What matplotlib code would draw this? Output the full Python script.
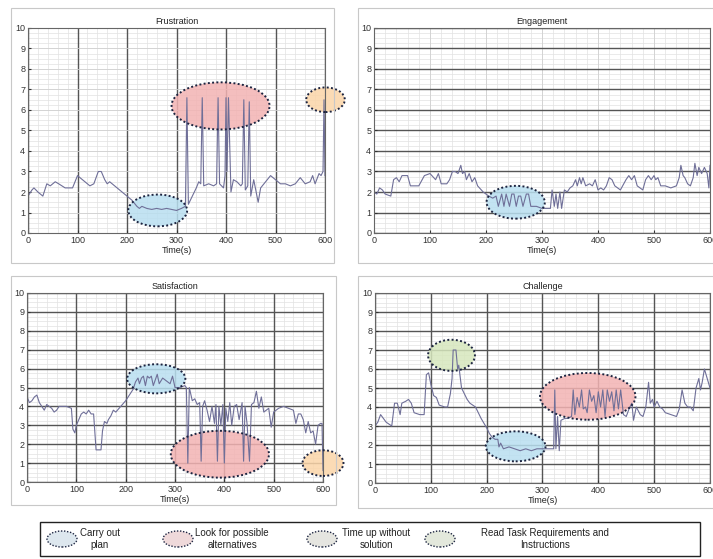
import numpy as np
import matplotlib
matplotlib.use("Agg")
import matplotlib.pyplot as plt
from matplotlib.patches import Ellipse, Rectangle
from matplotlib.ticker import MultipleLocator, NullLocator

plt.rcParams["font.family"] = ["Liberation Sans", "DejaVu Sans"]

W, H = 713, 559

# ---- data ----
frus_t = [0, 8, 12, 20, 30, 38, 45, 55, 62, 75, 90, 100, 105, 115, 125, 133, 142, 148, 155, 160,
          165, 175, 185, 195, 210, 220, 225, 230, 240, 250, 260, 270, 280, 290, 300, 310, 318,
          321, 324, 332, 340, 345, 349, 352, 355, 365, 375, 381, 384, 387, 395, 398, 400, 402,
          405, 410, 415, 422, 430, 433, 436, 439, 444, 447, 450, 456, 465, 470, 480, 490, 500,
          510, 520, 530, 540, 550, 560, 570, 575, 580, 588, 592, 596, 598, 600]
frus_v = [1.8, 2.1, 2.2, 2.0, 1.8, 2.4, 2.3, 2.5, 2.4, 2.2, 2.2, 2.8, 2.7, 2.5, 2.3, 2.4, 3.0, 3.0,
          2.6, 2.4, 2.5, 2.3, 2.1, 1.9, 1.6, 1.3, 1.2, 1.3, 1.2, 1.15, 1.2, 1.15, 1.2, 1.15, 1.1,
          1.2, 1.3, 6.6, 1.4, 1.8, 2.2, 2.5, 2.4, 6.6, 2.3, 2.4, 2.3, 2.4, 6.6, 2.4, 2.2, 2.8, 6.6,
          3.0, 6.6, 2.0, 2.6, 2.5, 2.3, 2.4, 6.5, 2.1, 2.3, 6.4, 1.8, 2.6, 1.5, 2.2, 2.5, 2.8,
          2.6, 2.4, 2.4, 2.3, 2.4, 2.7, 2.4, 2.5, 2.8, 2.4, 2.9, 2.8, 3.0, 6.5, 2.8]

eng_t = [0, 5, 10, 15, 20, 30, 35, 40, 45, 50, 60, 65, 80, 90, 100, 110, 115, 120, 130, 135, 140,
         145, 150, 155, 158, 162, 165, 170, 175, 180, 185, 195, 205, 212, 218, 222, 228, 232, 236,
         242, 246, 250, 254, 258, 262, 266, 272, 276, 280, 290, 300, 310, 315, 318, 322, 325, 328,
         332, 335, 340, 345, 350, 355, 360, 363, 367, 370, 373, 378, 385, 390, 395, 400, 405, 410,
         415, 420, 425, 430, 440, 450, 455, 460, 465, 470, 480, 485, 490, 495, 500, 503, 507, 512,
         520, 530, 540, 545, 548, 552, 555, 560, 565, 570, 573, 577, 580, 585, 590, 595, 598, 600]
eng_v = [2.0, 1.9, 2.2, 2.1, 1.9, 1.8, 2.6, 2.7, 2.5, 2.8, 2.8, 2.3, 2.3, 2.8, 2.9, 2.6, 2.9, 2.4,
         2.4, 2.6, 3.0, 3.0, 2.9, 3.3, 2.9, 3.0, 2.6, 2.9, 2.5, 2.7, 2.3, 2.0, 1.8, 1.7, 1.8, 1.3,
         1.9, 1.3, 1.9, 1.3, 1.9, 1.9, 1.3, 1.8, 1.8, 1.3, 1.9, 1.9, 1.3, 1.3, 1.2, 1.2, 1.2, 2.1,
         1.3, 1.9, 1.2, 2.0, 1.2, 2.1, 2.0, 2.2, 2.3, 2.6, 2.3, 2.7, 2.4, 2.7, 2.3, 2.4, 2.3, 2.6,
         2.1, 2.2, 2.1, 2.3, 2.7, 2.6, 2.3, 2.1, 2.6, 2.8, 2.6, 2.8, 2.3, 2.1, 2.6, 2.8, 2.6, 2.8,
         2.6, 2.7, 2.3, 2.3, 2.2, 2.3, 2.7, 3.3, 2.8, 2.7, 2.4, 2.3, 2.7, 3.4, 2.8, 3.2, 2.9, 3.2,
         2.9, 2.2, 3.3]

sat_t = [0, 5, 10, 15, 20, 25, 30, 35, 40, 45, 50, 55, 60, 65, 70, 80, 90, 93, 97, 100, 105, 110,
         115, 120, 125, 130, 135, 140, 150, 153, 157, 162, 165, 170, 175, 180, 190, 200, 210, 215,
         220, 225, 228, 232, 236, 240, 244, 248, 252, 256, 260, 264, 268, 275, 280, 290, 295, 300,
         310, 320, 323, 326, 329, 335, 340, 345, 350, 353, 356, 360, 365, 370, 375, 380, 383, 386,
         389, 393, 397, 400, 403, 407, 411, 415, 420, 425, 430, 436, 439, 442, 446, 451, 455, 460,
         465, 470, 475, 480, 490, 495, 500, 505, 510, 520, 530, 540, 545, 550, 555, 560, 565, 570,
         575, 580, 585, 590, 595, 598, 600, 600.5]
sat_v = [4.5, 4.2, 4.3, 4.5, 4.6, 4.2, 4.0, 3.8, 4.1, 4.0, 3.9, 3.7, 3.8, 4.0, 4.0, 4.0, 3.9, 2.8,
         2.6, 3.0, 3.3, 3.6, 3.7, 3.6, 3.8, 3.6, 3.6, 1.7, 1.7, 2.7, 3.2, 3.1, 3.3, 3.5, 3.8, 3.7,
         4.0, 4.3, 4.7, 4.9, 5.3, 5.5, 5.2, 5.5, 5.6, 5.1, 5.6, 5.5, 5.6, 5.1, 5.4, 5.7, 5.2, 5.5,
         5.4, 5.2, 5.6, 5.0, 5.0, 5.1, 5.0, 1.0, 5.0, 4.3, 4.4, 4.1, 4.2, 1.1, 4.0, 4.3, 3.8, 3.2,
         4.0, 3.1, 4.1, 1.1, 4.0, 3.0, 4.1, 1.0, 3.9, 3.2, 4.2, 3.0, 4.0, 4.1, 3.3, 4.2, 1.1, 4.0,
         3.1, 1.1, 4.1, 4.2, 4.8, 3.9, 4.5, 3.7, 3.9, 2.9, 3.7, 3.8, 3.9, 4.0, 3.9, 3.8, 3.1, 3.6,
         3.6, 3.3, 2.6, 3.2, 2.6, 2.7, 2.0, 3.0, 3.1, 3.1, 0.6, 0.6]

chal_t = [0, 5, 10, 15, 20, 25, 30, 35, 40, 45, 48, 55, 60, 65, 70, 80, 88, 92, 96, 100, 105, 110,
          115, 125, 130, 135, 138, 140, 145, 148, 150, 155, 160, 165, 170, 175, 180, 185, 190, 200,
          205, 210, 215, 220, 222, 225, 230, 240, 250, 260, 270, 280, 290, 300, 310, 320, 322, 324,
          327, 330, 333, 340, 345, 352, 355, 358, 362, 366, 370, 373, 377, 380, 384, 388, 392, 396,
          400, 404, 408, 412, 416, 420, 424, 428, 432, 436, 440, 445, 450, 455, 460, 463, 468, 475,
          480, 485, 490, 493, 497, 500, 505, 510, 515, 520, 530, 540, 545, 550, 555, 560, 565, 570,
          575, 580, 583, 586, 590, 595, 600]
chal_v = [3.0, 3.2, 3.6, 3.4, 3.2, 3.1, 3.0, 4.2, 4.2, 3.6, 4.2, 4.3, 4.4, 4.2, 3.7, 3.6, 3.6, 5.7,
          5.8, 5.2, 4.6, 4.5, 4.1, 4.0, 4.0, 4.7, 5.5, 7.0, 7.0, 6.0, 6.2, 5.0, 4.7, 4.4, 4.2, 4.1,
          4.0, 3.7, 3.4, 2.9, 2.6, 2.4, 2.3, 2.3, 1.9, 2.1, 1.8, 1.9, 1.8, 1.7, 1.8, 1.7, 1.8, 1.8,
          1.8, 1.8, 4.9, 1.8, 3.5, 1.7, 3.3, 3.4, 3.4, 3.5, 4.9, 3.6, 4.5, 4.0, 4.9, 3.9, 4.0, 3.7,
          4.9, 4.3, 4.6, 3.7, 4.8, 4.0, 4.9, 3.5, 4.9, 4.3, 4.8, 3.8, 4.9, 3.9, 4.9, 3.6, 3.5, 3.9,
          4.2, 3.3, 4.0, 3.6, 3.5, 4.0, 5.3, 4.2, 4.4, 4.0, 4.3, 4.0, 3.9, 3.7, 3.6, 3.5, 3.9, 4.9,
          4.2, 4.0, 4.0, 3.8, 5.0, 5.5, 4.9, 5.3, 6.0, 5.5, 5.0]

# ellipse annotations: (center t, center value, width s, height units, kind)
frus_marks = [(262, 1.1, 119, 1.55, "plan"), (389, 6.2, 198, 2.3, "alt"), (601, 6.5, 78, 1.2, "time")]
eng_marks = [(253, 1.5, 104, 1.6, "plan")]
sat_marks = [(262, 5.46, 118, 1.54, "plan"), (391, 1.47, 199, 2.48, "alt"), (600, 1.0, 83, 1.36, "time")]
chal_marks = [(137, 6.72, 84, 1.64, "read"), (252, 1.93, 107, 1.58, "plan"), (381, 4.56, 171, 2.46, "alt")]

mark_colors = {"plan": "#b9dff0", "alt": "#f3b3b3", "time": "#fbd5a8", "read": "#d6e7bd"}
legend_colors = {"plan": "#dde7ee", "alt": "#efd9da", "time": "#e5e5e0", "read": "#e3e8dc"}
legend_labels = [("plan", "Carry out\nplan"), ("alt", "Look for possible\nalternatives"),
                 ("time", "Time up without\nsolution"), ("read", "Read Task Requirements and\nInstructions")]

LINE = "#6f6f98"
EDGE = "#1c2440"


def fig_rect(left, top, right, bottom):
    return [left / W, 1 - bottom / H, (right - left) / W, (bottom - top) / H]


def panel(fig, box, frame, title, t, v, marks, dark_x, dark_y):
    fig.add_artist(Rectangle((frame[0] / W, 1 - frame[3] / H), (frame[2] - frame[0]) / W,
                             (frame[3] - frame[1]) / H, transform=fig.transFigure,
                             fill=False, edgecolor="#c8c8c8", linewidth=0.8))
    # background axes: minor grid only
    bg = fig.add_axes(fig_rect(*box))
    bg.set_xlim(0, 600)
    bg.set_ylim(0, 10)
    bg.xaxis.set_major_locator(MultipleLocator(20))
    bg.yaxis.set_major_locator(MultipleLocator(0.25))
    bg.grid(color="#e2e2e2", linewidth=0.5)
    bg.tick_params(length=0, labelleft=False, labelbottom=False)
    for s in bg.spines.values():
        s.set_visible(False)

    ax = fig.add_axes(fig_rect(*box))
    ax.patch.set_alpha(0)
    ax.set_xlim(0, 600)
    ax.set_ylim(0, 10)
    ax.xaxis.set_major_locator(MultipleLocator(100))
    ax.yaxis.set_major_locator(MultipleLocator(1))
    ax.grid(axis="x", color="#555555" if dark_x else "#d0d0d0", linewidth=1.0 if dark_x else 0.6)
    ax.grid(axis="y", color="#555555" if dark_y else "#d0d0d0", linewidth=1.0 if dark_y else 0.6)
    ax.set_axisbelow(True)
    ax.tick_params(direction="in", labelsize=6.5, length=2, pad=2, colors="#333333")
    for s in ax.spines.values():
        s.set_color("#666666")
        s.set_linewidth(0.8)
    for cx, cy, w, h, kind in marks:
        ax.add_patch(Ellipse((cx, cy), w, h, facecolor=mark_colors[kind], edgecolor="none",
                             alpha=0.85, zorder=1.5, clip_on=False))
    ax.plot(t, v, color=LINE, linewidth=0.8, zorder=2)
    for cx, cy, w, h, kind in marks:
        ax.add_patch(Ellipse((cx, cy), w, h, fill=False, edgecolor=EDGE, linestyle=(0, (1, 1.2)),
                             linewidth=1.4, zorder=3, clip_on=False))
    ax.set_title(title, fontsize=6.5, pad=3, color="#222222")
    ax.set_xlabel("Time(s)", fontsize=6.5, labelpad=1, color="#222222")
    return ax


fig = plt.figure(figsize=(W / 100, H / 100), dpi=100)
fig.patch.set_facecolor("white")

panel(fig, (28, 28, 325, 233), (11, 8, 334, 263), "Frustration", frus_t, frus_v, frus_marks, True, False)
panel(fig, (374, 28, 710, 233), (358, 8, 716, 263), "Engagement", eng_t, eng_v, eng_marks, False, True)
panel(fig, (27, 293, 323, 482), (11, 276, 336, 505), "Satisfaction", sat_t, sat_v, sat_marks, True, True)
panel(fig, (375, 293, 710, 483), (358, 276, 716, 508), "Challenge", chal_t, chal_v, chal_marks, True, True)

# legend box
fig.add_artist(Rectangle((40 / W, 1 - 556 / H), 660 / W, 34 / H, transform=fig.transFigure,
                         fill=False, edgecolor="#222222", linewidth=1.0))
icon_x = [62, 178, 322, 440]
text_x = [100, 232, 376, 545]
for (kind, label), ix, tx in zip(legend_labels, icon_x, text_x):
    fig.add_artist(Ellipse((ix / W, 1 - 539 / H), 30 / W, 16 / H, transform=fig.transFigure,
                           facecolor=legend_colors[kind], edgecolor=EDGE, linestyle=(0, (1, 1.2)),
                           linewidth=1.0))
    fig.text(tx / W, 1 - 539 / H, label, ha="center", va="center", fontsize=7,
             color="#222222", linespacing=1.2)

fig.savefig("out.png", dpi=100)
